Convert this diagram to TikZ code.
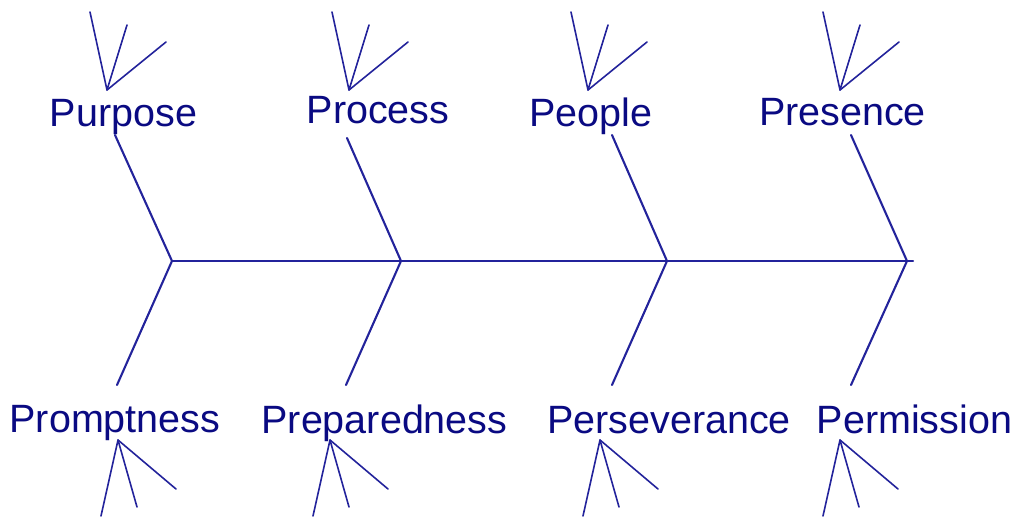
\documentclass[tikz,border=0pt]{standalone}
\usepackage{fontspec}
\setmainfont{Liberation Sans}
\definecolor{ink}{RGB}{10,10,130}
\definecolor{wire}{RGB}{35,35,155}
\begin{document}
\begin{tikzpicture}[x=1pt,y=-1pt,
  lbl/.style={font=\fontsize{39.5}{39.5}\selectfont, text=ink, inner sep=0pt, anchor=base},
  wireline/.style={draw=wire, line width=2.1pt, line cap=round, line join=round},
  ribline/.style={wireline, line width=1.6pt}]
\useasboundingbox (0,0) rectangle (1021,517);
% spine junctions
\coordinate (j1) at (172,261);
\coordinate (j2) at (401,261);
\coordinate (j3) at (667,261);
\coordinate (j4) at (907,261);
\coordinate (tail) at (913,261);
% branch ends
\coordinate (t1) at (115,135);
\coordinate (t2) at (347,138);
\coordinate (t3) at (612,135);
\coordinate (t4) at (851,135);
\coordinate (b1) at (117,385);
\coordinate (b2) at (346,385);
\coordinate (b3) at (612,385);
\coordinate (b4) at (851,385);
% labels
\node[lbl] (purpose) at (123.5,126) {Purpose};
\node[lbl] (process) at (378,123) {Process};
\node[lbl] (people) at (591,126) {People};
\node[lbl] (presence) at (842.5,125) {Presence};
\node[lbl] (promptness) at (115,432) {Promptness};
\node[lbl] (preparedness) at (384.5,433) {Preparedness};
\node[lbl] (perseverance) at (669,433) {Perseverance};
\node[lbl] (permission) at (914.5,433) {Permission};
% spine and branches
\draw[wireline] (j1) -- (j2) -- (j3) -- (j4) -- (tail);
\foreach \i in {1,2,3,4} {
  \draw[wireline] (t\i) -- (j\i) -- (b\i);
}
% small ribs, top
\coordinate (r1) at (107,90);
\coordinate (r2) at (349,90);
\coordinate (r3) at (588,90);
\coordinate (r4) at (840,90);
\foreach \i/\x in {1/107,2/349,3/588,4/840} {
  \coordinate (r\i a) at (\x-17,12);
  \coordinate (r\i b) at (\x+20,25);
  \coordinate (r\i c) at (\x+59,42);
  \draw[ribline] (r\i a) -- (r\i) -- (r\i b);
  \draw[ribline] (r\i) -- (r\i c);
}
% small ribs, bottom
\coordinate (s1) at (118,440);
\coordinate (s2) at (330,440);
\coordinate (s3) at (600,440);
\coordinate (s4) at (840,440);
\foreach \i/\x in {1/118,2/330,3/600,4/840} {
  \coordinate (s\i a) at (\x-17,516);
  \coordinate (s\i b) at (\x+19,507);
  \coordinate (s\i c) at (\x+58,489);
  \draw[ribline] (s\i a) -- (s\i) -- (s\i b);
  \draw[ribline] (s\i) -- (s\i c);
}
\end{tikzpicture}
\end{document}
